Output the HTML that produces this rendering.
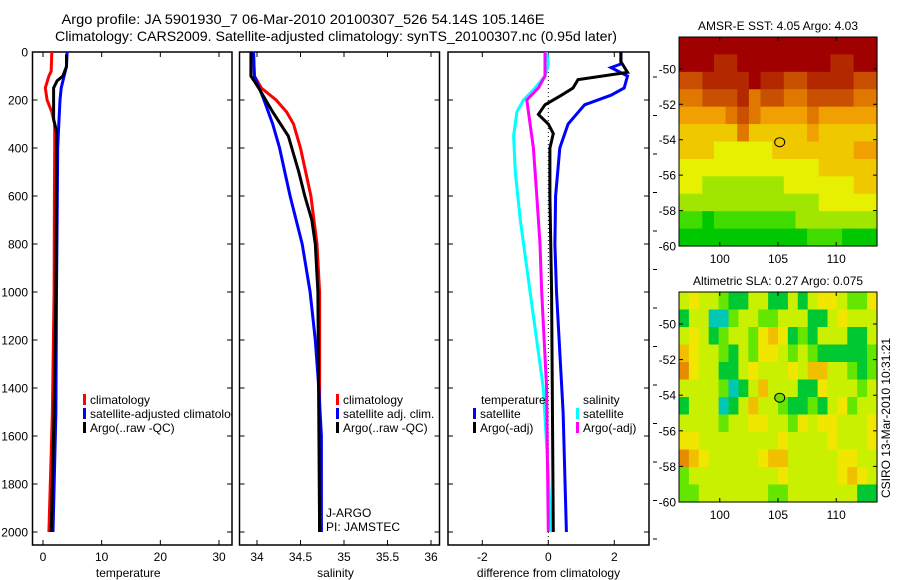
<!DOCTYPE html>
<html><head><meta charset="utf-8"><style>
html,body{margin:0;padding:0;background:#fff;}
svg{display:block;font-family:"Liberation Sans",sans-serif;}
</style></head><body>
<svg id="fig" width="900" height="580" viewBox="0 0 900 580" xmlns="http://www.w3.org/2000/svg">
<text x="303" y="24" font-size="14" text-anchor="middle" textLength="483" lengthAdjust="spacingAndGlyphs">Argo profile: JA 5901930_7 06-Mar-2010 20100307_526 54.14S 105.146E</text>
<text x="336" y="41" font-size="14" text-anchor="middle" textLength="562" lengthAdjust="spacingAndGlyphs">Climatology: CARS2009. Satellite-adjusted climatology: synTS_20100307.nc (0.95d later)</text>
<g id="layer"></g>
</svg>
<script>
// ---------- data ----------
var depthTicks=[0,200,400,600,800,1000,1200,1400,1600,1800,2000];
var tempTicks=[0,10,20,30];
var salTicks=[34,34.5,35,35.5,36];
var salTickLabels=["34","34.5","35","35.5","36"];
var diffTicks=[-2,0,2];

var tClimDepth=[0,80,100,150,200,250,300,400,600,1000,1500,2000];
var tClimVal=[1.5,1.4,1.0,0.4,0.7,1.5,2.0,2.0,1.95,1.9,1.6,1.0];
var tSatDepth=[0,60,100,150,200,300,400,700,1000,1500,2000];
var tSatVal=[4.1,4.0,3.6,3.1,2.9,2.7,2.5,2.4,2.3,2.2,1.7];
var tArgoDepth=[10,60,100,120,150,280,330,500,1000,1500,2000];
var tArgoVal=[4.0,4.0,3.4,2.4,1.8,1.8,2.3,2.3,2.2,1.9,1.4];

var sClimDepth=[0,100,150,200,250,300,400,500,600,800,1000,1400,2000];
var sClimVal=[33.96,33.97,34.05,34.22,34.34,34.42,34.5,34.56,34.62,34.69,34.72,34.72,34.72];
var sArgoDepth=[0,100,150,200,250,300,350,400,500,600,700,800,1000,2000];
var sArgoVal=[33.93,33.93,34.02,34.1,34.18,34.27,34.36,34.4,34.48,34.55,34.63,34.67,34.7,34.72];
var sSatDepth=[0,100,200,300,400,500,600,800,1000,1200,1400,1600,2000];
var sSatVal=[33.96,33.97,34.08,34.18,34.26,34.32,34.38,34.52,34.61,34.67,34.71,34.74,34.74];

var dTSatDepth=[0,50,65,100,150,180,220,300,400,600,800,1000,1500,2000];
var dTSatVal=[2.2,2.2,1.9,2.4,2.3,1.9,1.1,0.6,0.35,0.22,0.2,0.25,0.45,0.55];
var dTArgoDepth=[0,40,85,115,150,180,220,260,300,340,400,600,1000,2000];
var dTArgoVal=[2.2,2.2,2.4,0.9,0.75,0.4,-0.1,-0.3,0.0,0.15,0.05,0.05,0.1,0.15];
var dSSatDepth=[0,50,100,150,200,250,350,500,700,1000,1400,2000];
var dSSatVal=[-0.05,0.0,-0.1,-0.4,-0.75,-0.95,-1.05,-1.0,-0.85,-0.55,-0.15,0.1];
var dSArgoDepth=[0,100,150,200,300,400,600,800,1000,1400,2000];
var dSArgoVal=[-0.1,-0.1,-0.3,-0.65,-0.55,-0.45,-0.35,-0.25,-0.2,-0.05,0.0];

var latTicks=[-50,-52,-54,-56,-58,-60];
var lonTicks=[100,105,110];
var argoLon=105.146, argoLat=-54.14;
var sstRows=[
"99999999999999999",
"99988999999998899",
"77888898877888877",
"66777867766777766",
"55556765555655555",
"44444644444544444",
"44433333444444455",
"33333333333344444",
"33222222233333344",
"22222222222233333",
"11011111112222222",
"00000000000111000"];
var slaRows=[
"34332113311313443224",
"13300233223331134333",
"34312332454121333113",
"54332132443232111112",
"64331134333435533212",
"33332013533311433323",
"13330135332112134233",
"33332334433243443334",
"44333333334333343334",
"65433333455333334433",
"23333333334333334543",
"22333333322333333311"];

// ---------- helpers ----------
var NS="http://www.w3.org/2000/svg";
var layer=document.getElementById('layer');
function mk(tag,attrs,parent){var e=document.createElementNS(NS,tag);for(var k in attrs)e.setAttribute(k,attrs[k]);(parent||layer).appendChild(e);return e;}
function lin(d0,d1,r0,r1){return function(v){return r0+(v-d0)*(r1-r0)/(d1-d0);};}

var Y=lin(0,2000,52,532);
var panels=[
 {x0:32.5,x1:232,X:lin(0,30,43,219),ticks:tempTicks,labels:tempTicks.map(String),label:"temperature",name:"temperature"},
 {x0:239.5,x1:439.5,X:lin(34,36,257,431),ticks:salTicks,labels:salTickLabels,label:"salinity",name:"salinity"},
 {x0:448,x1:649,X:lin(0,2,548.3,614.3),ticks:diffTicks,labels:diffTicks.map(String),label:"difference from climatology",name:"difference"}
];
var TOPY=52,BOTY=545;
panels.forEach(function(p,i){
  var g=mk('g',{});
  
  
  var r=mk('rect',{x:p.x0,y:TOPY,width:p.x1-p.x0,height:BOTY-TOPY,fill:'none',stroke:'#000','stroke-width':1.5},g);
  
  
  p.ticks.forEach(function(t,j){
    var x=p.X(t);
    mk('line',{x1:x,y1:BOTY,x2:x,y2:BOTY-5,stroke:'#000'},g);
    mk('line',{x1:x,y1:TOPY,x2:x,y2:TOPY+5,stroke:'#000'},g);
    var tl=mk('text',{x:x,y:BOTY+16,'font-size':12,'text-anchor':'middle'},g);
    tl.textContent=p.labels[j];
    
    
  });
  depthTicks.forEach(function(d){
    var y=Y(d);
    mk('line',{x1:p.x0,y1:y,x2:p.x0+5,y2:y,stroke:'#000'},g);
    mk('line',{x1:p.x1,y1:y,x2:p.x1-5,y2:y,stroke:'#000'},g);
    if(i===0){
      var tl=mk('text',{x:28,y:y+4.5,'font-size':12,'text-anchor':'end'},g);
      tl.textContent=String(d);
      
      
    }
  });
  var al=mk('text',{x:(p.x0+p.x1)/2-(i==2?0:4),y:BOTY+32,'font-size':12,'text-anchor':'middle'},g);
  al.textContent=p.label;
  
  
});
// clip paths
var defs=mk('defs',{});
panels.forEach(function(p,i){
  var cp=mk('clipPath',{id:'cp'+i},defs);
  mk('rect',{x:p.x0,y:TOPY,width:p.x1-p.x0,height:BOTY-TOPY},cp);
});
function series(pi,ds,vs,color,name,w){
  var p=panels[pi];
  var pts=ds.map(function(d,k){return p.X(vs[k]).toFixed(1)+','+Y(d).toFixed(1);}).join(' ');
  var pl=mk('polyline',{points:pts,fill:'none',stroke:color,'stroke-width':w||3,'clip-path':'url(#cp'+pi+')'});
  
  
}
// zero dotted line
var zl=mk('line',{x1:panels[2].X(0),y1:TOPY,x2:panels[2].X(0),y2:BOTY,stroke:'#000','stroke-dasharray':'1,3','stroke-width':1});



series(0,tClimDepth,tClimVal,'#f00','temp-climatology-line');
series(0,tSatDepth,tSatVal,'#00f','temp-satellite-line');
series(0,tArgoDepth,tArgoVal,'#000','temp-argo-line');
series(1,sClimDepth,sClimVal,'#f00','sal-climatology-line');
series(1,sSatDepth,sSatVal,'#00f','sal-satellite-line');
series(1,sArgoDepth,sArgoVal,'#000','sal-argo-line');
series(2,dSSatDepth,dSSatVal,'#0ff','diff-sal-satellite-line');
series(2,dSArgoDepth,dSArgoVal,'#f0f','diff-sal-argo-line');
series(2,dTSatDepth,dTSatVal,'#00f','diff-temp-satellite-line');
series(2,dTArgoDepth,dTArgoVal,'#000','diff-temp-argo-line');

// legends
function legend(x,y,color,txt,name,clip){
  var g=mk('g',clip?{'clip-path':clip}:{});
  
  
  if(color) mk('rect',{x:x,y:y-10,width:3,height:11,fill:color},g);
  var t=mk('text',{x:x+7,y:y,'font-size':12},g);
  t.textContent=txt;
}
legend(83,404,'#f00','climatology','legend-temp-climatology');
legend(83,418,'#00f','satellite-adjusted climatology','legend-temp-satellite','url(#cp0)');
legend(83,432,'#000','Argo(..raw -QC)','legend-temp-argo');
legend(336,404,'#f00','climatology','legend-sal-climatology');
legend(336,418,'#00f','satellite adj. clim.','legend-sal-satellite');
legend(336,432,'#000','Argo(..raw -QC)','legend-sal-argo');
legend(474,404,null,'temperature','legend-temp-header');
legend(473,418,'#00f','satellite','legend-diff-temp-satellite');
legend(473,432,'#000','Argo(-adj)','legend-diff-temp-argo');
legend(576,404,null,'salinity','legend-sal-header');
legend(576,418,'#0ff','satellite','legend-diff-sal-satellite');
legend(576,432,'#f0f','Argo(-adj)','legend-diff-sal-argo');
var ja=mk('text',{x:326,y:517,'font-size':12});ja.textContent='J-ARGO';

var pi=mk('text',{x:326,y:531,'font-size':12});pi.textContent='PI: JAMSTEC';


// outer ticks right of panel 3
for(var k=0;k<13;k++){var yy=77+k*38.5;mk('line',{x1:653,y1:yy,x2:657,y2:yy,stroke:'#000'});}

// ---------- maps ----------
var sstColors=['#00c800','#40dc00','#a0e600','#e6f000','#f0c800','#f0a000','#e07800','#c85000','#b42800','#a00000'];
var slaColors=['#00c8b4','#00c832','#64e600','#c8f000','#f0e600','#f0c000','#e68c00'];
function map(y0,y1,rows,colors,title,name,fillDot){
  var mx0=679,mx1=877;
  var MX=lin(96.5,113.5,mx0,mx1), MY=lin(-48.2,-60,y0,y1);
  var g=mk('g',{});
  
  
  var nr=rows.length,nc=rows[0].length,cw=(mx1-mx0)/nc,ch=(y1-y0)/nr;
  rows.forEach(function(row,r){
    for(var c=0;c<nc;c++){
      var cell=mk('rect',{x:mx0+c*cw,y:y0+r*ch,width:cw+0.6,height:ch+0.6,fill:colors[+row[c]]},g);
      
      
    }
  });
  mk('rect',{x:mx0,y:y0,width:mx1-mx0,height:y1-y0,fill:'none',stroke:'#000','stroke-width':1},g);
  latTicks.forEach(function(l){
    var y=MY(l);
    mk('line',{x1:mx0,y1:y,x2:mx0+4,y2:y,stroke:'#000'},g);
    mk('line',{x1:mx1,y1:y,x2:mx1-4,y2:y,stroke:'#000'},g);
    var t=mk('text',{x:mx0-3,y:y+4.5,'font-size':12,'text-anchor':'end'},g);t.textContent=String(l);
  });
  lonTicks.forEach(function(l){
    var x=MX(l);
    mk('line',{x1:x,y1:y1,x2:x,y2:y1-4,stroke:'#000'},g);
    mk('line',{x1:x,y1:y0,x2:x,y2:y0+4,stroke:'#000'},g);
    var t=mk('text',{x:x,y:y1+17,'font-size':12,'text-anchor':'middle'},g);t.textContent=String(l);
  });
  var tt=mk('text',{x:(mx0+mx1)/2,y:y0-7,'font-size':12,'text-anchor':'middle'},g);tt.textContent=title;
  
  var dot=mk('ellipse',{cx:MX(argoLon),cy:MY(argoLat),rx:5,ry:4.5,fill:fillDot,stroke:'#000','stroke-width':1},g);
  
  
}
map(37,246,sstRows,sstColors,'AMSR-E SST: 4.05 Argo: 4.03','sst-map','none');
map(292,502,slaRows,slaColors,'Altimetric SLA: 0.27 Argo: 0.075','sla-map','#78dc00');
var cs=mk('text',{x:0,y:0,'font-size':12,'text-anchor':'middle',transform:'translate(890,418) rotate(-90)'});
cs.textContent='CSIRO 13-Mar-2010 10:31:21';


</script>
</body></html>
